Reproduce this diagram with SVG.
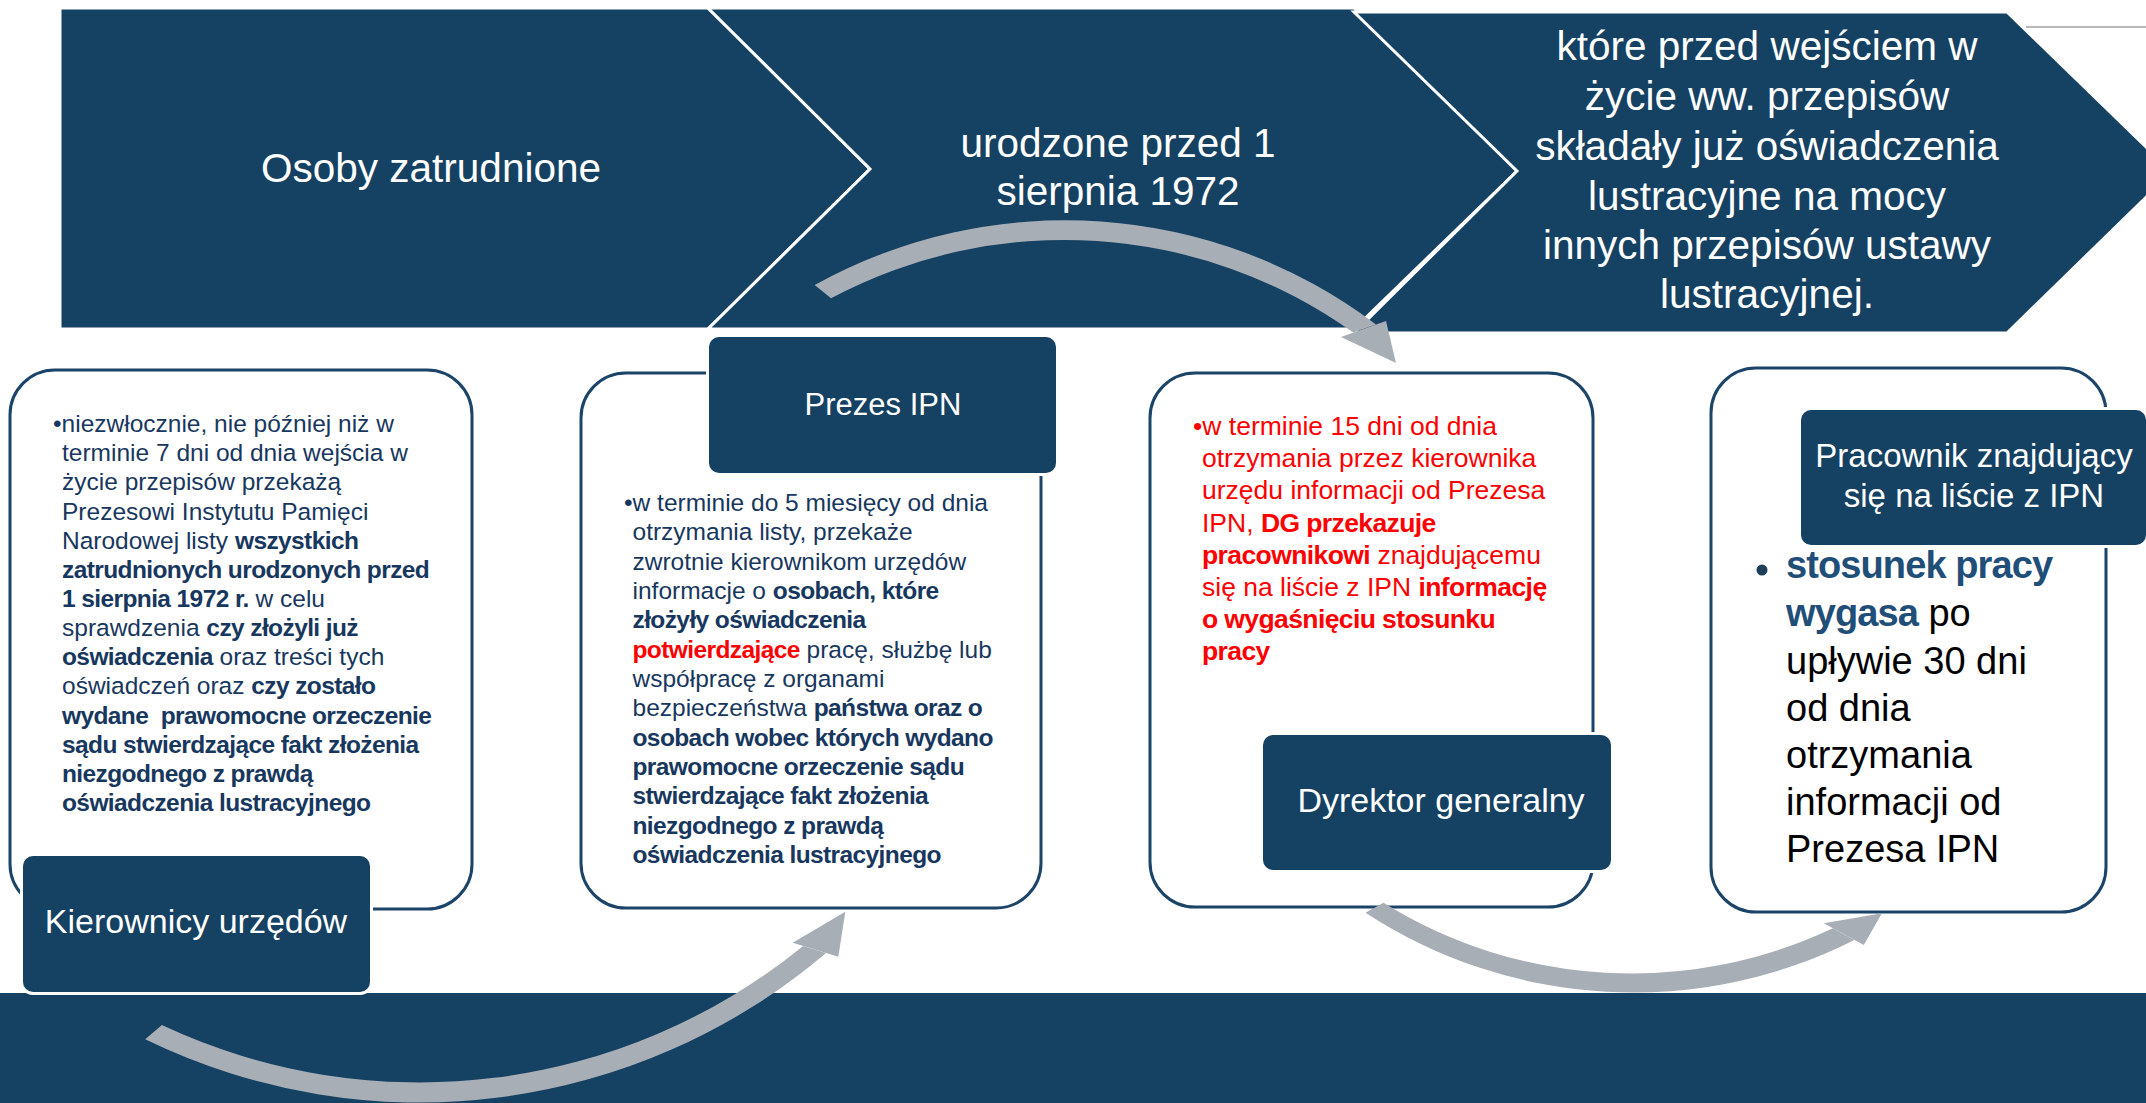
<svg xmlns="http://www.w3.org/2000/svg" width="2146" height="1103" viewBox="0 0 2146 1103">
<style>
text{font-family:"Liberation Sans",Arial,sans-serif}
.chev{fill:#154163;stroke:#fff;stroke-width:3;stroke-linejoin:miter}
.wt{fill:#fff;font-size:40.5px;text-anchor:middle}
.card{fill:#fff;stroke:#1b4468;stroke-width:3}
.lbl{fill:#154163;stroke:#fff;stroke-width:6;paint-order:stroke}
.lt{fill:#fff;text-anchor:middle}
.body{font-size:24.5px;fill:#17375e}
.b{font-weight:bold;letter-spacing:-0.6px}
.red{fill:#f00}
.arr{fill:#a8aeb6}
</style>
<rect x="0" y="0" width="2146" height="1103" fill="#fff"/>
<rect id="band" x="0" y="993" width="2146" height="110" fill="#154163"/>
<line x1="2026" y1="27" x2="2146" y2="27" stroke="#a0a0a0" stroke-width="1.5"/>

<g id="chevron1">
<polygon class="chev" points="60,8 708,8 870,169 708,329 60,329"/>
<text class="wt" x="431" y="182">Osoby zatrudnione</text>
</g>
<g id="chevron2">
<polygon class="chev" points="708,8 1354,8 1517,171 1354,329 708,329 870,169"/>
<text class="wt" x="1118" y="157">urodzone przed 1</text>
<text class="wt" x="1118" y="205">sierpnia 1972</text>
</g>
<g id="chevron3">
<polygon class="chev" points="1354,12 2007,12 2172,172 2007,333 1354,333 1517,171"/>
<text class="wt" x="1767"><tspan x="1767" y="60">które przed wejściem w</tspan><tspan x="1767" y="110">życie ww. przepisów</tspan><tspan x="1767" y="160">składały już oświadczenia</tspan><tspan x="1767" y="210">lustracyjne na mocy</tspan><tspan x="1767" y="259">innych przepisów ustawy</tspan><tspan x="1767" y="308">lustracyjnej.</tspan></text>
</g>

<g id="card1">
<rect class="card" x="10" y="370" width="462" height="539" rx="45"/>
<text class="body">
<tspan x="53" y="432">•niezwłocznie, nie później niż w</tspan>
<tspan x="62" y="461.2">terminie 7 dni od dnia wejścia w</tspan>
<tspan x="62" y="490.3">życie przepisów przekażą</tspan>
<tspan x="62" y="519.5">Prezesowi Instytutu Pamięci</tspan>
<tspan x="62" y="548.6">Narodowej listy <tspan class="b">wszystkich</tspan></tspan>
<tspan x="62" y="577.8" class="b">zatrudnionych urodzonych przed</tspan>
<tspan x="62" y="606.9"><tspan class="b">1 sierpnia 1972 r.</tspan> w celu</tspan>
<tspan x="62" y="636.1">sprawdzenia <tspan class="b">czy złożyli już</tspan></tspan>
<tspan x="62" y="665.2"><tspan class="b">oświadczenia</tspan> oraz treści tych</tspan>
<tspan x="62" y="694.4">oświadczeń oraz <tspan class="b">czy zostało</tspan></tspan>
<tspan x="62" y="723.5" class="b">wydane&#160; prawomocne orzeczenie</tspan>
<tspan x="62" y="752.7" class="b">sądu stwierdzające fakt złożenia</tspan>
<tspan x="62" y="781.8" class="b">niezgodnego z prawdą</tspan>
<tspan x="62" y="811" class="b">oświadczenia lustracyjnego</tspan>
</text>
</g>
<g id="kierownicy">
<rect class="lbl" x="23" y="856" width="347" height="136" rx="10"/>
<text class="lt" x="196" y="933" font-size="34">Kierownicy urzędów</text>
</g>

<g id="card2">
<rect class="card" x="581" y="373" width="460" height="535" rx="45"/>
<text class="body">
<tspan x="624" y="511">•w terminie do 5 miesięcy od dnia</tspan>
<tspan x="632.5" y="540.3">otrzymania listy, przekaże</tspan>
<tspan x="632.5" y="569.7">zwrotnie kierownikom urzędów</tspan>
<tspan x="632.5" y="599">informacje o <tspan class="b">osobach, które</tspan></tspan>
<tspan x="632.5" y="628.3" class="b">złożyły oświadczenia</tspan>
<tspan x="632.5" y="657.7"><tspan class="b red">potwierdzające</tspan> pracę, służbę lub</tspan>
<tspan x="632.5" y="687">współpracę z organami</tspan>
<tspan x="632.5" y="716.3">bezpieczeństwa <tspan class="b">państwa oraz o</tspan></tspan>
<tspan x="632.5" y="745.7" class="b">osobach wobec których wydano</tspan>
<tspan x="632.5" y="775" class="b">prawomocne orzeczenie sądu</tspan>
<tspan x="632.5" y="804.3" class="b">stwierdzające fakt złożenia</tspan>
<tspan x="632.5" y="833.7" class="b">niezgodnego z prawdą</tspan>
<tspan x="632.5" y="863" class="b">oświadczenia lustracyjnego</tspan>
</text>
</g>
<g id="prezes">
<rect class="lbl" x="709" y="337" width="347" height="136" rx="10"/>
<text class="lt" x="883" y="415" font-size="31">Prezes IPN</text>
</g>

<g id="card3">
<rect class="card" x="1150" y="373" width="443" height="534" rx="45"/>
<text class="red" font-size="26.5">
<tspan x="1193" y="435">•w terminie 15 dni od dnia</tspan>
<tspan x="1202" y="467">otrzymania przez kierownika</tspan>
<tspan x="1202" y="499">urzędu informacji od Prezesa</tspan>
<tspan x="1202" y="531.5">IPN, <tspan class="b">DG przekazuje</tspan></tspan>
<tspan x="1202" y="563.5"><tspan class="b">pracownikowi</tspan> znajdującemu</tspan>
<tspan x="1202" y="596">się na liście z IPN <tspan class="b">informację</tspan></tspan>
<tspan x="1202" y="628" class="b">o wygaśnięciu stosunku</tspan>
<tspan x="1202" y="660" class="b">pracy</tspan>
</text>
</g>
<g id="dyrektor">
<rect class="lbl" x="1263" y="735" width="348" height="135" rx="10"/>
<text class="lt" x="1441" y="812" font-size="34">Dyrektor generalny</text>
</g>

<g id="card4">
<rect class="card" x="1711" y="368" width="395" height="544" rx="45"/>
<circle cx="1762" cy="570" r="5.5" fill="#1f3e5a"/>
<text font-size="38" fill="#000">
<tspan x="1786" y="578" font-weight="bold" fill="#1f4e79" letter-spacing="-0.9">stosunek pracy</tspan>
<tspan x="1786" y="626"><tspan font-weight="bold" fill="#1f4e79" letter-spacing="-0.9">wygasa</tspan> po</tspan>
<tspan x="1786" y="674">upływie 30 dni</tspan>
<tspan x="1786" y="721">od dnia</tspan>
<tspan x="1786" y="768">otrzymania</tspan>
<tspan x="1786" y="815">informacji od</tspan>
<tspan x="1786" y="862">Prezesa IPN</tspan>
</text>
</g>
<g id="pracownik">
<rect class="lbl" x="1801" y="410" width="345" height="135" rx="10"/>
<text class="lt" font-size="33"><tspan x="1974" y="467">Pracownik znajdujący</tspan><tspan x="1974" y="507">się na liście z IPN</tspan></text>
</g>

<g id="connectors">
<g id="arrow-top">
<path class="arr" d="M814.7 285 A516 516 0 0 1 1376 324.5 L1353.2 332.6 A496 496 0 0 0 831 298.3 Z"/>
<polygon class="arr" points="1341,337 1386,321 1396,363"/>
</g>
<g id="arrow-left">
<path class="arr" d="M145.2 1039.3 A627 627 0 0 0 826 952.9 L803.2 945.9 A607 607 0 0 1 161.9 1025 Z"/>
<polygon class="arr" points="792.7,942.7 838.3,956.7 845.3,911.7"/>
</g>
<g id="arrow-right">
<path class="arr" d="M1365.5 912.7 A489.6 489.6 0 0 0 1854.4 939.9 L1832.8 928.2 A469.6 469.6 0 0 1 1383.5 902.7 Z"/>
<polygon class="arr" points="1823.8,923.3 1863.8,945 1881.9,913.3"/>
</g>
</g>
</svg>
